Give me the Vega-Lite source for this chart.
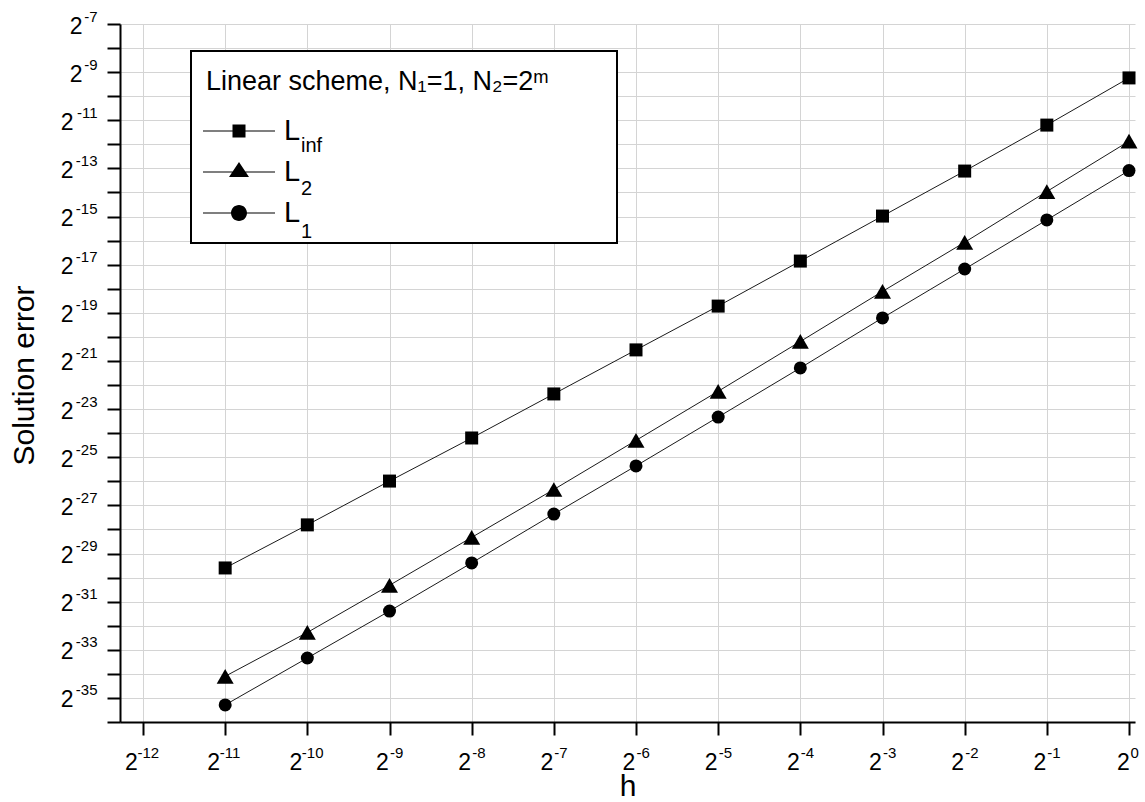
{
  "$schema": "https://vega.github.io/schema/vega-lite/v6.json",
  "width": 1015,
  "height": 698,
  "autosize": {"type": "none"},
  "padding": {"left": 120, "top": 24, "right": 10, "bottom": 80},
  "background": "white",
  "config": {
    "view": {"stroke": null},
    "font": "Liberation Sans",
    "axis": {
      "labelFont": "Liberation Sans",
      "titleFont": "Liberation Sans",
      "labelColor": "black",
      "titleColor": "black",
      "titleFontWeight": "normal",
      "labelOverlap": false,
      "labelFlush": false,
      "labelBound": false,
      "tickColor": "black",
      "tickWidth": 2,
      "tickSize": 13,
      "domainColor": "black",
      "domainWidth": 2,
      "gridColor": "#d4d4d4",
      "gridWidth": 1
    },
    "legend": {
      "labelFont": "Liberation Sans",
      "titleFont": "Liberation Sans",
      "labelColor": "black",
      "titleColor": "black",
      "strokeWidth": 2
    }
  },
  "data": {
    "values": [
      {"norm": "L_inf", "log2_h": -11, "log2_err": -29.60},
      {"norm": "L_inf", "log2_h": -10, "log2_err": -27.81},
      {"norm": "L_inf", "log2_h": -9, "log2_err": -25.99},
      {"norm": "L_inf", "log2_h": -8, "log2_err": -24.20},
      {"norm": "L_inf", "log2_h": -7, "log2_err": -22.37},
      {"norm": "L_inf", "log2_h": -6, "log2_err": -20.54},
      {"norm": "L_inf", "log2_h": -5, "log2_err": -18.72},
      {"norm": "L_inf", "log2_h": -4, "log2_err": -16.85},
      {"norm": "L_inf", "log2_h": -3, "log2_err": -14.98},
      {"norm": "L_inf", "log2_h": -2, "log2_err": -13.11},
      {"norm": "L_inf", "log2_h": -1, "log2_err": -11.20},
      {"norm": "L_inf", "log2_h": 0, "log2_err": -9.24},
      {"norm": "L_2", "log2_h": -11, "log2_err": -34.10},
      {"norm": "L_2", "log2_h": -10, "log2_err": -32.28},
      {"norm": "L_2", "log2_h": -9, "log2_err": -30.32},
      {"norm": "L_2", "log2_h": -8, "log2_err": -28.33},
      {"norm": "L_2", "log2_h": -7, "log2_err": -26.34},
      {"norm": "L_2", "log2_h": -6, "log2_err": -24.30},
      {"norm": "L_2", "log2_h": -5, "log2_err": -22.26},
      {"norm": "L_2", "log2_h": -4, "log2_err": -20.19},
      {"norm": "L_2", "log2_h": -3, "log2_err": -18.11},
      {"norm": "L_2", "log2_h": -2, "log2_err": -16.07},
      {"norm": "L_2", "log2_h": -1, "log2_err": -13.96},
      {"norm": "L_2", "log2_h": 0, "log2_err": -11.87},
      {"norm": "L_1", "log2_h": -11, "log2_err": -35.29},
      {"norm": "L_1", "log2_h": -10, "log2_err": -33.34},
      {"norm": "L_1", "log2_h": -9, "log2_err": -31.39},
      {"norm": "L_1", "log2_h": -8, "log2_err": -29.39},
      {"norm": "L_1", "log2_h": -7, "log2_err": -27.36},
      {"norm": "L_1", "log2_h": -6, "log2_err": -25.36},
      {"norm": "L_1", "log2_h": -5, "log2_err": -23.33},
      {"norm": "L_1", "log2_h": -4, "log2_err": -21.29},
      {"norm": "L_1", "log2_h": -3, "log2_err": -19.21},
      {"norm": "L_1", "log2_h": -2, "log2_err": -17.18},
      {"norm": "L_1", "log2_h": -1, "log2_err": -15.14},
      {"norm": "L_1", "log2_h": 0, "log2_err": -13.09}
    ]
  },
  "layer": [
    {
      "mark": {"type": "line", "stroke": "#1a1a1a", "strokeWidth": 1},
      "encoding": {
        "x": {
          "field": "log2_h", "type": "quantitative",
          "scale": {"domain": [-12.28, 0.073], "nice": false, "zero": false},
          "axis": {
            "orient": "bottom",
            "values": [-12, -11, -10, -9, -8, -7, -6, -5, -4, -3, -2, -1, 0],
            "labelExpr": "'2'",
            "labelFontSize": 23,
            "labelAlign": "center",
            "labelBaseline": "top",
            "labelPadding": 16,
            "labelOffset": {"condition": [{"test": "datum.value <= -10", "value": -12}, {"test": "datum.value == 0", "value": -6}], "value": -7.5},
            "grid": true,
            "title": "h",
            "titleFontSize": 30,
            "titleX": 507.5,
            "titleY": 73,
            "titleBaseline": "alphabetic",
            "titleAlign": "center"
          }
        },
        "y": {
          "field": "log2_err", "type": "quantitative",
          "scale": {"domain": [-36, -7], "nice": false, "zero": false},
          "axis": {
            "orient": "left",
            "values": [-36, -35, -34, -33, -32, -31, -30, -29, -28, -27, -26, -25, -24, -23, -22, -21, -20, -19, -18, -17, -16, -15, -14, -13, -12, -11, -10, -9, -8, -7],
            "labelExpr": "datum.value % 2 != 0 ? '2' : ''",
            "labelFontSize": 23,
            "labelAlign": "right",
            "labelBaseline": "middle",
            "labelPadding": {"condition": {"test": "datum.value > -10", "value": 25}, "value": 34},
            "labelOffset": 2,
            "grid": true,
            "title": "Solution error",
            "titleFontSize": 30,
            "titleAngle": -90,
            "titleX": -87,
            "titleY": 351,
            "titleBaseline": "alphabetic",
            "titleAlign": "center"
          }
        },
        "detail": {"field": "norm", "type": "nominal"}
      }
    },
    {
      "mark": {"type": "point", "filled": true, "color": "black", "opacity": 1},
      "encoding": {
        "x": {
          "field": "log2_h", "type": "quantitative",
          "axis": {
            "orient": "bottom",
            "values": [-12, -11, -10, -9, -8, -7, -6, -5, -4, -3, -2, -1, 0],
            "labelExpr": "'' + datum.value",
            "labelFontSize": 15,
            "labelAlign": "left",
            "labelBaseline": "top",
            "labelPadding": 10,
            "labelOffset": {"condition": [{"test": "datum.value <= -10", "value": -6}, {"test": "datum.value == 0", "value": 1}], "value": 0},
            "grid": false,
            "domain": false,
            "tickOpacity": 0,
            "title": null
          }
        },
        "y": {
          "field": "log2_err", "type": "quantitative",
          "axis": {
            "orient": "left",
            "values": [-36, -35, -34, -33, -32, -31, -30, -29, -28, -27, -26, -25, -24, -23, -22, -21, -20, -19, -18, -17, -16, -15, -14, -13, -12, -11, -10, -9, -8, -7],
            "labelExpr": "datum.value % 2 != 0 ? '' + datum.value : ''",
            "labelFontSize": 15,
            "labelAlign": "right",
            "labelBaseline": "middle",
            "labelPadding": 10,
            "labelOffset": -8,
            "grid": false,
            "domain": false,
            "tickOpacity": 0,
            "title": null
          }
        },
        "shape": {
          "field": "norm", "type": "nominal",
          "scale": {"domain": ["L_inf", "L_2", "L_1"], "range": ["square", "triangle-up", "circle"]},
          "legend": null
        },
        "size": {
          "field": "norm", "type": "ordinal",
          "scale": {"type": "ordinal", "domain": ["L_inf", "L_2", "L_1"], "range": [169, 289, 169]},
          "legend": null
        }
      }
    },
    {
      "mark": {"type": "point", "filled": true, "color": "black", "opacity": 0},
      "encoding": {
        "x": {"field": "log2_h", "type": "quantitative", "axis": null},
        "y": {"field": "log2_err", "type": "quantitative", "axis": null},
        "shape": {
          "field": "norm", "type": "nominal",
          "sort": ["L_inf", "L_2", "L_1"],
          "scale": {"range": [
            "M-1.8,-0.028H1.8V0.028H-1.8ZM-0.325,-0.325H0.325V0.325H-0.325Z",
            "M-1.8,-0.028H1.8V0.028H-1.8ZM0,-0.5L0.5,0.25L-0.5,0.25Z",
            "M-1.8,-0.028H1.8V0.028H-1.8ZM0.4,0A0.4,0.4,0,1,1,-0.4,0A0.4,0.4,0,1,1,0.4,0Z"
          ]},
          "legend": {
            "orient": "none",
            "legendX": 71,
            "legendY": 27,
            "title": "Linear scheme, N₁=1, N₂=2ᵐ\u00a0\u00a0\u00a0\u00a0\u00a0\u00a0\u00a0\u200b",
            "titleFontSize": 27,
            "titleFontWeight": "normal",
            "titleBaseline": "line-top",
            "titleLineHeight": 32,
            "titlePadding": 18,
            "titleLimit": 1000,
            "padding": 15,
            "strokeColor": "black",
            "fillColor": "white",
            "symbolSize": 1600,
            "symbolOffset": 13,
            "symbolStrokeWidth": 0,
            "symbolFillColor": "black",
            "symbolOpacity": 1,
            "labelExpr": "'L'",
            "labelFontSize": 29,
            "labelOffset": 25,
            "rowPadding": 6
          }
        }
      }
    },
    {
      "mark": {"type": "point", "filled": true, "opacity": 0},
      "encoding": {
        "x": {"field": "log2_h", "type": "quantitative", "axis": null},
        "y": {"field": "log2_err", "type": "quantitative", "axis": null},
        "color": {
          "field": "norm", "type": "nominal",
          "scale": {"domain": ["L_inf", "L_2", "L_1"], "range": ["black", "black", "black"]},
          "legend": {
            "orient": "none",
            "legendX": 81,
            "legendY": 101,
            "title": null,
            "padding": 0,
            "strokeColor": null,
            "symbolSize": 1600,
            "symbolOpacity": 0,
            "labelExpr": "replace(datum.label, 'L_', '')",
            "labelFontSize": 20,
            "labelOffset": 58,
            "rowPadding": 2
          }
        }
      }
    }
  ],
  "resolve": {
    "scale": {"shape": "independent", "size": "independent", "color": "independent"},
    "axis": {"x": "independent", "y": "independent"}
  }
}
